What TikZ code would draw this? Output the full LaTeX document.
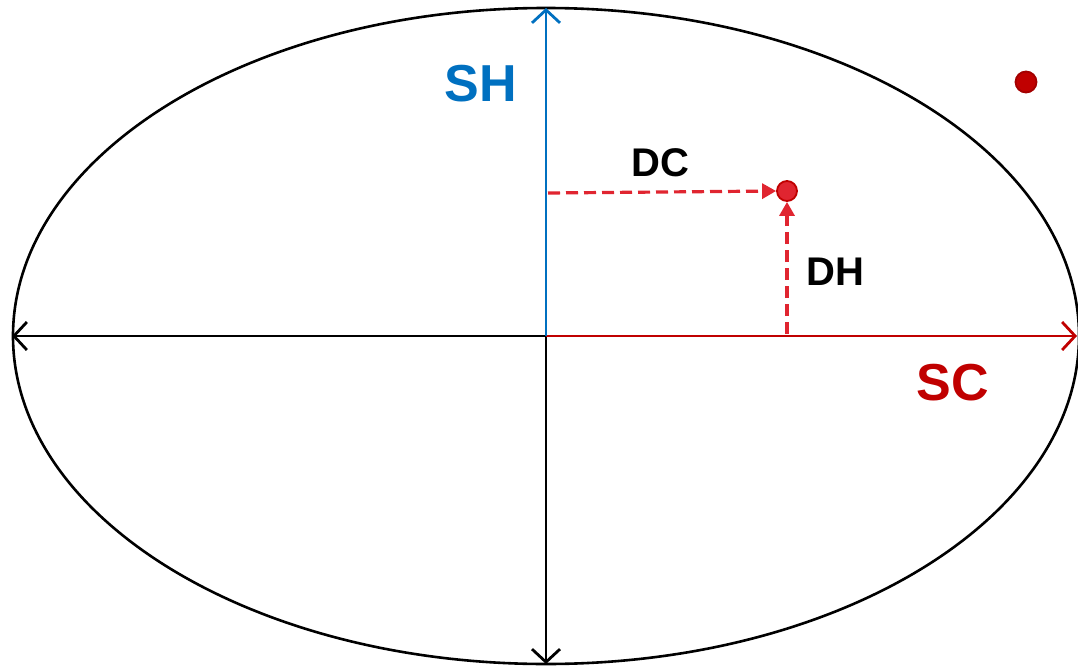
\documentclass[tikz,border=0pt]{standalone}
\usepackage{fontspec}
\setmainfont{Liberation Sans}
\usetikzlibrary{arrows.meta}
\definecolor{axblue}{HTML}{0070C0}
\definecolor{axred}{HTML}{C00000}
\definecolor{dred}{HTML}{E02530}
\begin{document}
\begin{tikzpicture}[x=1pt,y=-1pt,
  axis/.style={line width=2.8pt,-{Straight Barb[length=13pt,width=28pt,line width=2.8pt]}},
  darr/.style={dred,line width=3.2pt,dash pattern=on 12pt off 6pt,-{Triangle[length=14pt,width=15pt]}},
  lab/.style={font=\bfseries\fontsize{40}{40}\selectfont,inner sep=0pt},
  big/.style={font=\bfseries\fontsize{52}{52}\selectfont},
  dot/.style={circle,inner sep=0pt,minimum size=20pt,line width=1.8pt}]
\useasboundingbox (0,0) rectangle (1078,666);
\coordinate (O) at (546,336);
\draw[line width=2.6pt] (O) ellipse [x radius=533, y radius=328];
\coordinate (L) at (12,336);
\coordinate (R) at (1077,336);
\coordinate (T) at (546,8);
\coordinate (B) at (546,664);
\draw[axis] (O) -- (L);
\draw[axis] (O) -- (B);
\draw[axis,axred] (O) -- (R);
\draw[axis,axblue] (O) -- (T);
\node[dot,fill=dred,draw=axred] (P) at (787,191) {};
\node[dot,fill=axred,draw=axred!85!black,minimum size=21pt] (Q) at (1026,82) {};
\coordinate (S) at (548,193);
\coordinate (H) at (787,334);
\draw[darr] (S) -- (P.west);
\draw[darr] (H) -- (P.south);
\node[lab,big,text=axblue] (sh) at (481,84) {SH};
\node[lab] (dc) at (660,163) {DC};
\node[lab] (dh) at (835,272) {DH};
\node[lab,big,text=axred] (sc) at (953,383) {SC};
\end{tikzpicture}
\end{document}
